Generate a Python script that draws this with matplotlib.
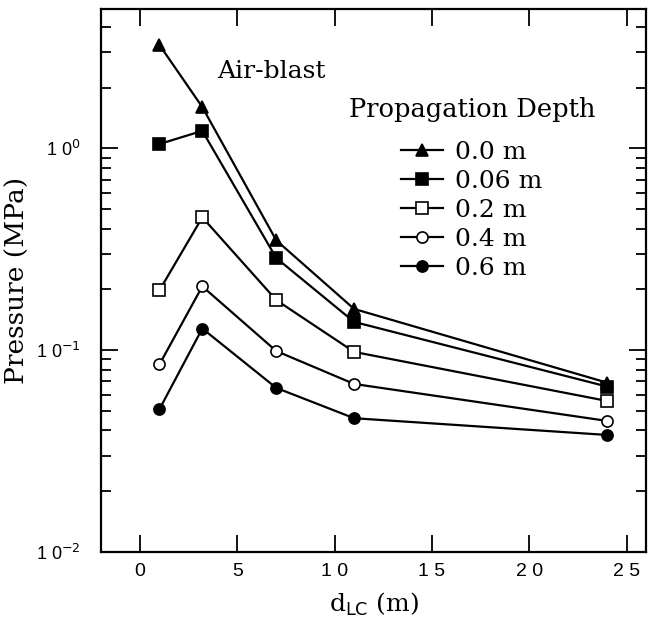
import matplotlib
matplotlib.use("Agg")
import matplotlib.pyplot as plt
from matplotlib.lines import Line2D
from matplotlib.ticker import LogLocator, NullFormatter, FixedLocator

# distance from the charge (m)
d_lc = [1.0, 3.2, 7.0, 11.0, 24.0]

# peak pressure (MPa) for each propagation depth
p_00 = [3.25, 1.60, 0.35, 0.16, 0.069]
p_006 = [1.05, 1.22, 0.286, 0.138, 0.066]
p_02 = [0.198, 0.455, 0.177, 0.098, 0.056]
p_04 = [0.085, 0.207, 0.099, 0.068, 0.0446]
p_06 = [0.051, 0.128, 0.065, 0.046, 0.038]

depth_labels = ["0.0 m", "0.06 m", "0.2 m", "0.4 m", "0.6 m"]
x_ticks = [0, 5, 10, 15, 20, 25]
x_ticklabels = ["0", "5", "1 0", "1 5", "2 0", "2 5"]

serif = "DejaVu Serif"
sans = "Liberation Sans"

fig = plt.figure(figsize=(6.48, 6.24), dpi=100)
ax = fig.add_axes([0.156, 0.1154, 0.841, 0.8702])

series = [p_00, p_006, p_02, p_04, p_06]
markers = ["^", "s", "s", "o", "o"]
faces = ["black", "black", "white", "white", "black"]

handles = []
for vals, m, fc, lab in zip(series, markers, faces, depth_labels):
    ax.plot(d_lc, vals, color="black", lw=1.6, marker=m, ms=8,
            mfc=fc, mec="black", mew=1.2)
    handles.append(Line2D([], [], color="black", lw=1.6, marker=m, ms=8,
                          mfc=fc, mec="black", mew=1.2, label=lab))

ax.set_yscale("log")
ax.set_xlim(-2, 26)
ax.set_ylim(0.01, 4.9)

ax.xaxis.set_major_locator(FixedLocator(x_ticks))
ax.set_xticklabels(x_ticklabels, fontfamily=sans, fontsize=14)
ax.yaxis.set_minor_locator(LogLocator(base=10, subs=range(2, 10), numticks=10))
ax.yaxis.set_minor_formatter(NullFormatter())
ax.set_yticks([0.01, 0.1, 1])
ax.set_yticklabels([r"1 0$^{-2}$", r"1 0$^{-1}$", r"1 0$^{0}$"],
                   fontfamily=sans, fontsize=13)

ax.tick_params(which="both", direction="in", top=True, right=True, width=1.3)
ax.tick_params(which="major", length=12)
ax.tick_params(axis="x", which="major", pad=8)
ax.tick_params(axis="y", which="major", pad=15)
ax.tick_params(which="minor", length=7)
for s in ax.spines.values():
    s.set_linewidth(1.6)

ax.set_xlabel(r"d$_{\rm LC}$ (m)", fontfamily=serif, fontsize=18)
ax.xaxis.set_label_coords(0.5, -0.072)
ax.set_ylabel("Pressure (MPa)", fontfamily=serif, fontsize=19, labelpad=4)

ax.text(0.213, 0.884, "Air-blast", transform=ax.transAxes,
        fontfamily=serif, fontsize=18, va="center")
ax.text(0.455, 0.814, "Propagation Depth", transform=ax.transAxes,
        fontfamily=serif, fontsize=18.5, va="center")

ax.legend(handles=handles, loc="upper left", bbox_to_anchor=(0.55, 0.757),
          frameon=False, prop={"family": serif, "size": 18},
          handlelength=1.7, handletextpad=0.45, labelspacing=0.24,
          borderpad=0, borderaxespad=0)

fig.savefig("out.png", dpi=100)
